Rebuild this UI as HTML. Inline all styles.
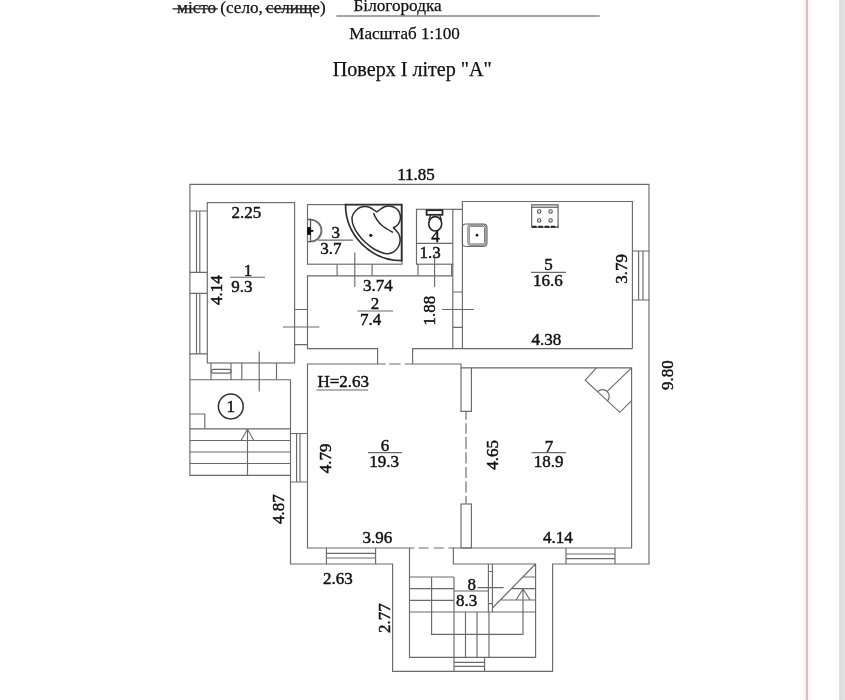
<!DOCTYPE html>
<html><head><meta charset="utf-8">
<style>
html,body{margin:0;padding:0;background:#fff;}
body{width:845px;height:700px;overflow:hidden;position:relative;font-family:"Liberation Serif",serif;}
svg{position:absolute;left:0;top:0;display:block;will-change:transform}
text{font-family:"Liberation Serif",serif;fill:#111}
.l{fill:none;stroke:#6a6a6a;stroke-width:1.15}
.d{fill:none;stroke:#4a4a4a;stroke-width:1;stroke-dasharray:7 3.5}
.t{fill:none;stroke:#2e2e2e;stroke-width:1.5}
.g{fill:none;stroke:#666;stroke-width:1.2}
.n{font-size:17px}
.n text{stroke:#111;stroke-width:0.45px}
.m{text-anchor:middle}
#hdr text{stroke:#111;stroke-width:0.25px}
.bn{fill:#fff;stroke:#505050;stroke-width:1.1}
</style></head><body>
<svg width="845" height="700" viewBox="0 0 845 700">
<rect x="0" y="0" width="845" height="700" fill="#fff"/>
<!-- page edge -->
<defs><linearGradient id="gb" x1="0" x2="1" y1="0" y2="0"><stop offset="0" stop-color="#d9d7d9"/><stop offset="0.25" stop-color="#dfdcdf"/><stop offset="1" stop-color="#e4e1e4"/></linearGradient>
<linearGradient id="gp" x1="0" x2="1" y1="0" y2="0"><stop offset="0" stop-color="#fff"/><stop offset="0.3" stop-color="#fdf3f5"/><stop offset="0.5" stop-color="#fbeef1"/><stop offset="0.7" stop-color="#fdf5f6"/><stop offset="1" stop-color="#fff"/></linearGradient></defs>
<rect x="839.2" y="0" width="5.8" height="700" fill="url(#gb)"/>
<rect x="802.5" y="0" width="9" height="700" fill="url(#gp)"/>
<rect x="805.8" y="0" width="2.2" height="700" fill="#e1bec7"/>
<!-- HEADER -->
<g id="hdr">
<text x="177" y="13.2" font-size="17.2">місто</text>
<text x="220.2" y="13.2" font-size="17.2">(село,</text>
<text x="265.8" y="13.2" font-size="17.2">селище)</text>
<path class="l" d="M172.5 8.9H217.8M265.1 8.9H318.8" style="stroke:#222;stroke-width:1.1"/>
<text x="353.5" y="11.1" font-size="17.2">Білогородка</text>
<path class="l" d="M336.4 16H599.7" style="stroke:#4a4a4a;stroke-width:1.2"/>
<text x="349.2" y="39.3" font-size="17.1">Масштаб 1:100</text>
<text x="332.8" y="76.3" font-size="20.1">Поверх І літер "А"</text>
</g>

<!-- OUTER WALLS -->
<path class="l" d="M189.9 475.4V184.3H649V564H552.6V671.4H392.6V564H290.5V379.7H189.6"/>
<!-- Room 1 -->
<rect class="l" x="207.3" y="202.6" width="87.3" height="160.4"/>
<!-- left windows -->
<path class="l" d="M189.6 211H207.3M189.6 272.4H207.3M196.5 211V272.4M199.8 211V272.4"/>
<path class="l" d="M189.6 293.4H207.3M189.6 353.8H207.3M196.5 293.4V353.8M199.8 293.4V353.8"/>
<!-- Room 3 -->
<rect class="l" x="307.5" y="204.6" width="94.5" height="59.6"/>
<!-- Room 4 -->
<rect class="l" x="416.5" y="209.3" width="36.3" height="54.9"/>
<path class="l" d="M416.5 243.4H452.8M418 264.2V275.8M451.6 264.2V275.8M434.6 254V287"/>
<!-- Room 2 -->
<path class="l" d="M377.6 364V348.6H307.5V275.8H452.8M452.8 264V348.6M412.6 364V348.6H632.4"/>
<path class="l" d="M337.1 264.2V275.8M372.1 264.2V275.8M354.8 252.5V287"/>
<!-- door 1/2 -->
<path class="l" d="M294.6 309.5H307.5M294.6 344.6H307.5M283 327H319.4"/>
<!-- wall 2/5 -->
<path class="l" d="M452.8 209.3H462.4M452.8 292H462.4M452.8 327.4H462.4M442 309.5H474"/>
<!-- Room 5 -->
<path class="l" d="M462.4 348.6V201.5H632.4V348.6"/>
<path class="l" d="M632.4 251H649M632.4 300H649M638.6 251V300M643 251V300"/>
<!-- Room 6 -->
<path class="l" d="M377.6 364H307.5V548H409.5M412.6 364H461V411.4H471.4V367.8M461 367.8H631.6V548H453.4V564H535.6V657.4H409.5V548"/>
<path class="l" d="M377.6 364H385.6M389.1 364H400.5M404.7 364H412.6"/>
<path class="l" d="M409.5 548H414.4M418.7 548H428.6M433.8 548H443.8M448.5 548H453.4"/>
<path class="l" d="M466 411.1V419.7M466 423.2V433.4M466 436.9V448.9M466 452.3V463.5M466 466.9V478M466 481.5V492.6M466 496V503.8"/>
<rect class="l" x="461" y="504" width="10.4" height="44"/>
<!-- window left of room 6 -->
<path class="l" d="M290.5 433.5H307.5M290.5 482H307.5M296.6 433.5V482M300 433.5V482"/>
<!-- bottom windows -->
<path class="l" d="M326.4 548V564M375.6 548V564M326.4 553.4H375.6M326.4 558H375.6"/>
<path class="l" d="M566 548V564M615 548V564M566 554H615M566 558.6H615"/>
<!-- Room 8 stairs -->
<path class="l" d="M409.5 577H454M409.5 588.6H454M409.5 600.3H454M409.5 612H535.6M431.6 577V634.4H523V589M454 577V671.4M454 591H488.4M465.5 612V657.4M477 612V657.4M489 612V657.4M488.4 564V612M492.4 564V612M488.4 571.5H492.4M488.4 603.6H492.4M492.4 608L535.6 564M522.8 577H535.6M511.4 588.6H535.6M500.3 600H535.6M516 600L523 589L530 600M477.6 587.6H503.6"/>
<path class="l" d="M484.6 657.4V671.4M454 662.4H484.6M454 666.4H484.6"/>
<!-- Porch -->
<path class="l" d="M189.6 414H204.8V428.8M189.6 428.8H290.5M189.6 440.5H290.5M189.6 452H290.5M189.6 463.5H290.5M189.6 475.4H290.5M247.5 428.8V475.4M241 440.5L247.5 429.3L253.8 440.5"/>
<path class="l" d="M211 363V379.7M231 363V379.7M241.8 363V379.7M276.5 363V379.7M259.2 351.5V391.4"/>
<rect class="g" x="211.4" y="369.3" width="19.6" height="3.8" rx="1.9"/>
<circle class="t" cx="230.8" cy="406.5" r="12.4"/>

<!-- Bathtub -->
<path class="t" style="stroke-width:1.7" d="M345.5 204.6H401.6V260.6A56.1 56 0 0 1 345.5 204.6Z"/>
<path class="t" style="stroke-width:1.5" d="M377.0 212.0C376.5 211.7 375.2 210.8 374.0 210.0C372.8 209.2 371.5 208.1 370.0 207.5C368.5 206.9 366.7 206.5 365.0 206.5C363.3 206.5 361.5 206.8 360.0 207.5C358.5 208.2 357.2 209.3 356.0 210.5C354.8 211.7 353.7 213.1 353.0 214.5C352.3 215.9 351.9 217.1 352.0 219.0C352.1 220.9 352.5 223.5 353.5 226.0C354.5 228.5 356.1 231.3 358.0 234.0C359.9 236.7 362.3 239.5 365.0 242.0C367.7 244.5 371.0 247.2 374.0 249.0C377.0 250.8 380.7 252.2 383.0 253.0C385.3 253.8 386.2 253.9 388.0 253.7C389.8 253.5 392.2 252.9 394.0 251.7C395.8 250.5 397.5 248.4 398.5 246.5C399.5 244.6 400.1 242.1 400.2 240.0C400.2 237.9 399.6 235.7 398.8 234.0C398.0 232.3 396.4 230.8 395.5 229.8C394.6 228.8 393.8 228.1 393.5 227.8C394.2 227.3 396.4 226.2 397.5 225.0C398.6 223.8 399.5 222.1 400.0 220.5C400.5 218.9 400.6 217.2 400.3 215.5C400.0 213.8 399.3 211.9 398.3 210.5C397.3 209.1 395.9 208.1 394.3 207.3C392.8 206.6 390.7 206.1 389.0 206.0C387.3 205.9 385.5 206.4 384.0 207.0C382.5 207.6 381.2 208.7 380.0 209.5C378.8 210.3 377.5 211.6 377.0 212.0"/>
<path class="t" style="stroke-width:1.5" d="M373.5 213.0C373.8 213.6 374.2 214.9 375.0 216.3C375.8 217.7 376.8 219.7 378.0 221.2C379.2 222.7 380.5 224.2 382.0 225.5C383.5 226.8 385.2 227.8 387.0 229.0C388.8 230.2 392.0 231.9 393.0 232.5"/>
<circle cx="370.8" cy="235.3" r="1.6" fill="#1a1a1a"/>
<!-- wall sink -->
<path style="fill:none;stroke:#6c6c6c;stroke-width:1.9" d="M310.5 219.6A11 11 0 0 1 310.5 241.6"/>
<path style="fill:none;stroke:#555;stroke-width:1.3" d="M307.6 219.5H310.5V241.7H307.6"/>
<rect x="307.2" y="227.1" width="3.6" height="7.8" fill="#0c0c0c"/>
<rect x="307.5" y="229.9" width="5.8" height="1.9" fill="#0c0c0c"/>
<!-- toilet -->
<rect style="fill:#fff;stroke:#2a2a2a;stroke-width:1.8" x="426.6" y="210.2" width="15.9" height="4.6"/>
<ellipse style="fill:none;stroke:#2a2a2a;stroke-width:1.6" cx="435.2" cy="223.8" rx="6.5" ry="7.2"/>
<path style="fill:none;stroke:#2a2a2a;stroke-width:1.3" d="M430.6 215C430.2 217 429.6 218.4 428.9 220M439.8 215C440.2 217 440.8 218.4 441.5 220"/>
<!-- kitchen sink -->
<rect style="fill:none;stroke:#5a5a5a;stroke-width:1" x="462.4" y="224" width="24.6" height="22.4" rx="3"/>
<rect style="fill:none;stroke:#5a5a5a;stroke-width:0.9" x="467.9" y="225.1" width="18" height="20.1" rx="2.2"/>
<rect style="fill:none;stroke:#5a5a5a;stroke-width:0.8" x="469.3" y="226.4" width="15.2" height="17.5" rx="1.4"/>
<circle cx="477" cy="235.2" r="1.35" fill="#1a1a1a"/>
<!-- stove -->
<rect x="531.7" y="204.8" width="26.4" height="2.5" fill="#ddd"/>
<rect style="fill:none;stroke:#5c5c5c;stroke-width:1.1" x="531.7" y="204.8" width="26.4" height="22.4"/>
<path style="fill:none;stroke:#5c5c5c;stroke-width:1" d="M531.7 207.3H558.1"/>
<path d="M532 226.8H558.1" style="stroke:#222;stroke-width:1.9;stroke-dasharray:4.6 1.7;fill:none"/>
<circle class="bn" cx="539.2" cy="211.5" r="1.7"/><circle class="bn" cx="550.6" cy="211.5" r="1.7"/>
<circle class="bn" cx="539.2" cy="220.5" r="1.7"/><circle class="bn" cx="550.6" cy="220.5" r="1.7"/>
<!-- fireplace -->
<path class="l" d="M596.4 367.8L585.2 380.2L619.8 412.3L631.6 400.6M631.6 367.8L607.7 390.9M598 391.4A6.7 6.7 0 0 1 607.7 400.6"/>

<!-- TEXT -->
<g class="n">
<text transform="translate(397.2 179.5)">11.85</text>
<text transform="translate(231.6 217.6)">2.25</text>
<text class="m" transform="translate(248 276)">1</text><path class="l" d="M230 277.2H265"/><text transform="translate(231.2 291.6)">9.3</text>
<text class="m" transform="translate(222.3 290) rotate(-90)">4.14</text>
<text class="m" transform="translate(335.7 237.9)">3</text><path class="l" d="M317.9 240.1H353.1"/><text class="m" transform="translate(330.8 254.3)">3.7</text>
<text class="m" transform="translate(435.4 241.6)">4</text><text class="m" transform="translate(430.1 258.2)">1.3</text>
<text transform="translate(362.9 291.4)">3.74</text>
<text class="m" transform="translate(375 308.6)">2</text><path class="l" d="M357.5 311H393"/><text class="m" transform="translate(370.5 324.5)">7.4</text>
<text class="m" transform="translate(434.9 310.6) rotate(-90)">1.88</text>
<text class="m" transform="translate(548.6 270.4)">5</text><path class="l" d="M531 272.4H566"/><text class="m" transform="translate(547.8 286.4)">16.6</text>
<text class="m" transform="translate(627 268.8) rotate(-90)">3.79</text>
<text transform="translate(531.6 344.6)">4.38</text>
<text class="m" transform="translate(672.6 375.2) rotate(-90)">9.80</text>
<text transform="translate(317.4 386.6)">H=2.63</text><path class="l" d="M316.4 390H368"/>
<text class="m" transform="translate(330.6 458.3) rotate(-90)">4.79</text>
<text class="m" transform="translate(385 451.4)">6</text><path class="l" d="M368 452.6H402"/><text class="m" transform="translate(384 467)">19.3</text>
<text class="m" transform="translate(497.9 454.8) rotate(-90)">4.65</text>
<text class="m" transform="translate(549 452.2)">7</text><path class="l" d="M531.6 452.6H566"/><text class="m" transform="translate(548.7 467)">18.9</text>
<text class="m" transform="translate(284 509.2) rotate(-90)">4.87</text>
<text transform="translate(362.6 543)">3.96</text>
<text transform="translate(543 543)">4.14</text>
<text transform="translate(323 584)">2.63</text>
<text class="m" transform="translate(390 618.2) rotate(-90)">2.77</text>
<text class="m" transform="translate(471.7 590)">8</text><text class="m" transform="translate(466.6 605.6)">8.3</text>
<text class="m" transform="translate(230.8 411.9)">1</text>
</g>
</svg>
</body></html>
